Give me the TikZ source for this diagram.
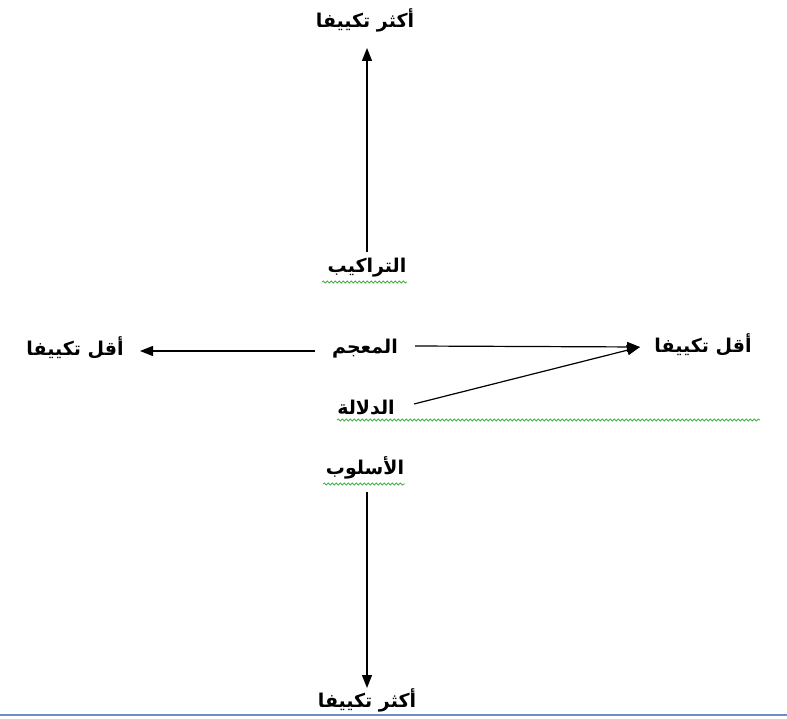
\documentclass[tikz,border=0pt]{standalone}
\usepackage{fontspec}
\TeXXeTstate=1
\newfontfamily\arabicfont[Script=Arabic]{DejaVu Sans}
\usetikzlibrary{arrows.meta,decorations.pathmorphing}
\definecolor{squig}{RGB}{70,175,70}
\definecolor{rule}{RGB}{110,140,200}
\tikzset{
  lbl/.style={font=\arabicfont\bfseries\fontsize{19}{22}\selectfont, inner sep=0pt, text=black},
  arr/.style={draw=black, line width=1.2pt, -{Triangle[length=13pt,width=10pt]}},
  wavy/.style={draw=squig, line width=0.8pt, decorate, decoration={snake, segment length=4pt, amplitude=1.1pt}}
}
\begin{document}
\begin{tikzpicture}[x=1pt,y=-1pt]
\useasboundingbox (0,0) rectangle (787,719);
\node[lbl] (top) at (365,20) {\beginR أكثر تكييفا\endR};
\node[lbl] (trk) at (367,268) {\beginR التراكيب\endR};
\node[lbl] (mjm) at (365,349) {\beginR المعجم\endR};
\node[lbl] (lft) at (75,348) {\beginR أقل تكييفا\endR};
\node[lbl] (rgt) at (703,345) {\beginR أقل تكييفا\endR};
\node[lbl] (dll) at (366,408) {\beginR الدلالة\endR};
\node[lbl] (slb) at (365,468) {\beginR الأسلوب\endR};
\node[lbl] (bot) at (367,700) {\beginR أكثر تكييفا\endR};
\coordinate (tipT) at (367,48);
\coordinate (tipL) at (140,351);
\coordinate (tipR) at (640,347);
\coordinate (tipB) at (367,688);
\coordinate (sT) at (367,252);
\coordinate (sL) at (315,351);
\coordinate (sR) at (415,346);
\coordinate (sD) at (414,404);
\coordinate (sB) at (367,492);
\draw[arr] (sT) -- (tipT);
\draw[arr] (sL) -- (tipL);
\draw[arr] (sR) -- (tipR);
\draw[arr] (sD) -- (tipR);
\draw[arr] (sB) -- (tipB);
\draw[wavy] (322,282) -- (407,282);
\draw[wavy] (337,420) -- (760,420);
\draw[wavy] (323,484) -- (405,484);
\draw[draw=rule, line width=1.2pt] (0,715) -- (787,715);
\end{tikzpicture}
\end{document}
